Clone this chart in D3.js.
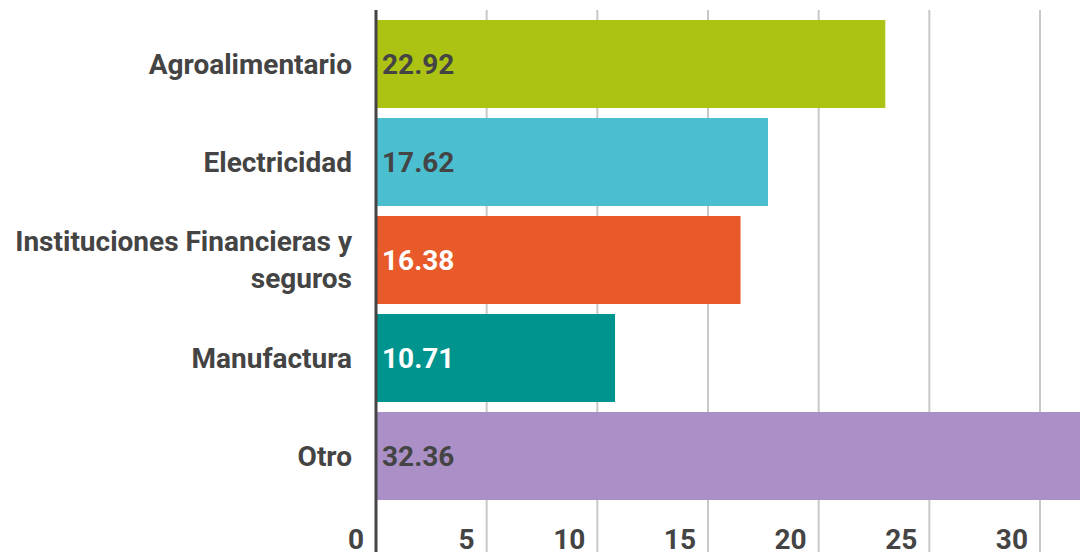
<!DOCTYPE html>
<html>
<head>
<meta charset="utf-8">
<script src="https://cdn.jsdelivr.net/npm/d3@7"></script>
<style>
  body { margin: 0; background: #fff; }
  svg { display: block; font-family: Roboto, "Noto Sans", sans-serif; }
</style>
</head>
<body>
<svg id="chart"></svg>
<script>
    // data
    var categories = ["Agroalimentario", "Electricidad", "Instituciones Financieras y seguros", "Manufactura", "Otro"];
    var labelLines = [["Agroalimentario"], ["Electricidad"], ["Instituciones Financieras y", "seguros"], ["Manufactura"], ["Otro"]];
    var values = [22.92, 17.62, 16.38, 10.71, 32.36];
    var colors = ["#adc314", "#4bbecf", "#e85a29", "#00948f", "#aa90c6"];
    var valueColors = ["#444", "#444", "#fff", "#fff", "#444"];
    var ticks = [0, 5, 10, 15, 20, 25, 30];

    var width = 1080, height = 552;

    var svg = d3.select("#chart")
      .attr("width", width)
      .attr("height", height);

    // scales
    var x = d3.scaleLinear().domain([0, 30]).range([376, 1040]);
    var y = d3.scaleBand().domain(categories).range([20, 500]).paddingInner(0.102).paddingOuter(0);

    // gridlines
    svg.append("g")
      .selectAll("line")
      .data(ticks.slice(1))
      .enter().append("line")
      .attr("x1", function(d) { return x(d); })
      .attr("x2", function(d) { return x(d); })
      .attr("y1", 10)
      .attr("y2", height)
      .attr("stroke", "#c8c8c8")
      .attr("stroke-width", 2);

    // bars
    svg.append("g")
      .selectAll("rect")
      .data(values)
      .enter().append("rect")
      .attr("x", x(0) + 1)
      .attr("y", function(d, i) { return y(categories[i]); })
      .attr("width", function(d) { return x(d) - x(0) + 1; })
      .attr("height", y.bandwidth())
      .attr("fill", function(d, i) { return colors[i]; });

    // axis line
    svg.append("line")
      .attr("x1", x(0)).attr("x2", x(0))
      .attr("y1", 10).attr("y2", height)
      .attr("stroke", "#444")
      .attr("stroke-width", 3);

    // value labels
    svg.append("g")
      .selectAll("text")
      .data(values)
      .enter().append("text")
      .attr("x", x(0) + 6)
      .attr("y", function(d, i) { return y(categories[i]) + y.bandwidth() / 2; })
      .attr("dy", "0.35em")
      .attr("fill", function(d, i) { return valueColors[i]; })
      .style("font-size", "28px")
      .style("font-weight", "bold")
      .text(function(d) { return d.toFixed(2); });

    // category labels
    var cat = svg.append("g")
      .selectAll("text")
      .data(labelLines)
      .enter().append("text")
      .attr("text-anchor", "end")
      .attr("fill", "#444")
      .style("font-size", "28px")
      .style("font-weight", "bold")
      .attr("y", function(d, i) { return y(categories[i]) + y.bandwidth() / 2; });

    cat.selectAll("tspan")
      .data(function(d) { return d.map(function(t, j) { return {t: t, j: j, n: d.length}; }); })
      .enter().append("tspan")
      .attr("x", 352)
      .attr("dy", function(d) { return d.j === 0 ? (0.35 - (d.n - 1) * 0.66) + "em" : "1.32em"; })
      .text(function(d) { return d.t; });

    // tick labels
    svg.append("g")
      .selectAll("text")
      .data(ticks)
      .enter().append("text")
      .attr("x", function(d) { return x(d) - 12; })
      .attr("y", 549)
      .attr("text-anchor", "end")
      .attr("fill", "#444")
      .style("font-size", "28px")
      .style("font-weight", "bold")
      .text(function(d) { return d; });
</script>
</body>
</html>
